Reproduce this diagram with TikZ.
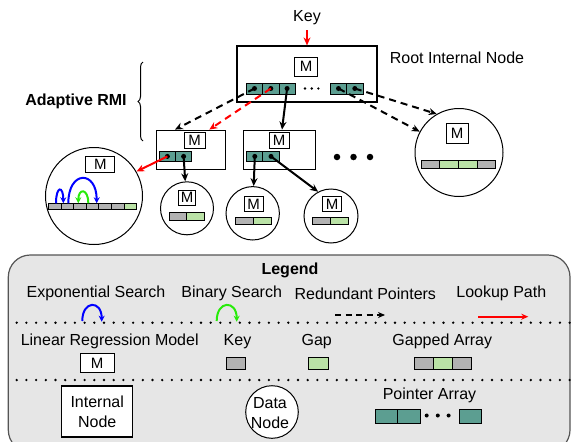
\documentclass[tikz,border=0pt]{standalone}
\usepackage{fontspec}
\setmainfont{Liberation Sans}
\usetikzlibrary{arrows.meta,decorations.pathreplacing}
\definecolor{tealc}{RGB}{92,158,145}
\definecolor{keygray}{RGB}{178,178,178}
\definecolor{gapgreen}{RGB}{186,226,166}
\definecolor{legbg}{RGB}{230,230,230}
\definecolor{legline}{RGB}{85,85,85}
\definecolor{arcgreen}{RGB}{40,235,10}
\definecolor{arcblue}{RGB}{0,0,255}
\definecolor{lookred}{RGB}{255,0,0}
\begin{document}
\begin{tikzpicture}[x=1pt,y=-1pt,
  txt/.style={font=\fontsize{16}{20}\selectfont, inner sep=0pt, align=center},
  mbox/.style={draw, line width=1pt, fill=white, inner sep=0pt, font=\fontsize{15}{15}\selectfont, minimum width=21pt, minimum height=16pt},
  pcell/.style={draw, line width=0.9pt, fill=tealc, inner sep=0pt, minimum width=16.3pt, minimum height=11pt},
  kcell/.style={draw, line width=0.8pt, fill=keygray, inner sep=0pt},
  gcell/.style={draw, line width=0.8pt, fill=gapgreen, inner sep=0pt},
  inode/.style={draw, line width=1.2pt, inner sep=0pt},
  dnode/.style={draw, circle, line width=1pt, inner sep=0pt},
  pdot/.style={circle, fill=black, inner sep=0pt, minimum size=5pt},
  edot/.style={circle, fill=black, inner sep=0pt, minimum size=2.6pt},
  bdot/.style={circle, fill=black, inner sep=0pt, minimum size=6.5pt},
  ptr/.style={-{Stealth[length=8pt,width=7pt]}, line width=2pt},
  dsh/.style={dash pattern=on 7pt off 5pt},
  lookup/.style={ptr, draw=lookred},
  srch/.style={-{Stealth[length=6pt,width=6pt]}, line width=2pt},
  dotline/.style={line width=2.6pt, line cap=round, dash pattern=on 0pt off 9.7pt}
]
\useasboundingbox (0,0) rectangle (571,442);

% ---------- legend background ----------
\draw[fill=legbg, draw=legline, line width=1.2pt, rounded corners=22pt] (8.3,255) rectangle (570,452);

% ---------- top tree ----------
\node[txt] (key) at (307,18) {Key};
\node[inode, minimum width=140pt, minimum height=56pt] (root) at (307,74) {};
\node[txt] (rootlbl) at (457,58) {Root Internal Node};
\node[txt, font=\fontsize{16}{20}\selectfont\bfseries] (armi) at (76,101) {Adaptive RMI};
\draw[decorate, decoration={brace, amplitude=5pt, aspect=0.5}, line width=1pt] (143,141) -- (143,62);

\node[mbox, minimum width=23pt, minimum height=19pt] (rm) at (306,66.5) {M};
\foreach \i/\x in {1/254.5, 2/270.8, 3/287.1, 4/338.5, 5/354.8}{
  \node[pcell] (rc\i) at (\x,88.5) {};
  \node[pdot] (rp\i) at (rc\i.center) {};
}
\foreach \i/\x in {1/305, 2/311.7, 3/318.4}{\node[edot] (re\i) at (\x,88.5) {};}

% internal node 1
\node[inode, minimum width=69pt, minimum height=39pt] (in1) at (190.7,149.7) {};
\node[mbox] (m1) at (194.7,140.5) {M};
\foreach \i/\x in {1/167.4, 2/183.6}{
  \node[pcell, minimum width=16.2pt, minimum height=10.7pt] (ac\i) at (\x,156.4) {};
  \node[pdot] (ap\i) at (ac\i.center) {};
}
% internal node 2
\node[inode, minimum width=72pt, minimum height=39pt] (in2) at (279.2,149.7) {};
\node[mbox, minimum width=20pt] (m2) at (279.2,140.8) {M};
\foreach \i/\x in {1/254.8, 2/271}{
  \node[pcell, minimum width=16.2pt, minimum height=10.7pt] (bc\i) at (\x,156.4) {};
  \node[pdot] (bp\i) at (bc\i.center) {};
}
\foreach \i/\x in {1/337, 2/353.5, 3/370}{\node[bdot] (be\i) at (\x,157) {};}

% right data node
\node[dnode, minimum size=88pt] (dn) at (459,152.5) {};
\node[mbox, minimum width=22pt, minimum height=20pt] (dm) at (457.2,133.8) {M};
\foreach \i/\c in {1/keygray, 2/gapgreen, 3/gapgreen, 4/keygray}{
  \node[kcell, fill=\c, minimum width=18.7pt, minimum height=8.3pt] (da\i) at (421+18.7*\i-9.35,164.2) {};
}

% big data node
\node[dnode, minimum size=97pt] (big) at (94,196) {};
\node[mbox, minimum width=29pt, minimum height=16pt] (bm) at (100.3,164.7) {M};
\foreach \i/\c in {1/keygray,2/keygray,3/keygray,4/keygray,5/keygray,6/keygray,7/gapgreen}{
  \node[kcell, fill=\c, minimum width=12.63pt, minimum height=6pt] (ba\i) at (48.3+12.63*\i-6.315,206.3) {};
}
\draw[srch, arcblue] (56,203.3) .. controls (56,185.5) and (63.3,185.5) .. (63.3,203.3);
\draw[srch, arcblue] (68.3,203.3) .. controls (68.3,170) and (96.7,170) .. (96.7,203.3);
\draw[srch, arcgreen] (88.3,203.3) .. controls (88.3,188) and (78.3,188) .. (78.3,203.3);

% small data nodes
\node[dnode, minimum size=53pt] (sc1) at (187,208.3) {};
\node[mbox, minimum width=17.5pt, minimum height=15pt] (s1m) at (187,197.5) {M};
\node[kcell, minimum width=17.5pt, minimum height=7.7pt] (s1a) at (178.05,216.2) {};
\node[gcell, minimum width=17.5pt, minimum height=7.7pt] (s1b) at (195.55,216.2) {};

\node[dnode, minimum size=53.4pt] (sc2) at (252.7,213.3) {};
\node[mbox, minimum width=19pt, minimum height=15pt] (s2m) at (253.7,204.2) {M};
\node[kcell, minimum width=17.8pt, minimum height=6.8pt] (s2a) at (244.2,221) {};
\node[gcell, minimum width=17.8pt, minimum height=6.8pt] (s2b) at (262,221) {};

\node[dnode, minimum size=54pt] (sc3) at (331,216) {};
\node[mbox, minimum width=19pt, minimum height=15pt] (s3m) at (332,204.2) {M};
\node[kcell, minimum width=17.8pt, minimum height=6.8pt] (s3a) at (321.6,220.7) {};
\node[gcell, minimum width=17.8pt, minimum height=6.8pt] (s3b) at (339.4,220.7) {};

% connectors
\draw[lookup] ([yshift=-5pt]key.south) -- (root.north);
\draw[ptr, dsh] (rp1.center) -- ([xshift=-15.7pt]in1.north);
\draw[lookup, dsh] (rp2.center) -- ([xshift=18.6pt]in1.north);
\draw[ptr] (rp3.center) -- ([xshift=2.8pt]in2.north);
\draw[ptr, dsh] (rp4.center) -- (dn);
\draw[ptr, dsh] (rp5.center) -- (dn.120);
\draw[lookup] (ap1.center) -- (big.30);
\draw[ptr] (ap2.center) -- (sc1);
\draw[ptr] (bp1.center) -- (sc2);
\draw[ptr] (bp2.center) -- (sc3.118);

% ---------- legend ----------
\node[txt, font=\fontsize{16}{20}\selectfont\bfseries] (leg) at (290,270.7) {Legend};
\node[txt] (lexp) at (96,293.3) {Exponential Search};
\node[txt] (lbin) at (231.7,293.3) {Binary Search};
\node[txt] (lred) at (365.3,293.3) {Redundant Pointers};
\node[txt] (llook) at (501.3,293.3) {Lookup Path};
\draw[srch, arcblue] (82.3,321) .. controls (82.3,300) and (101.7,300) .. (101.7,321.7);
\draw[srch, arcgreen] (216.7,321) .. controls (216.7,300) and (236.7,300) .. (236.7,321.7);
\coordinate (rda) at (335,315);
\coordinate (rdb) at (385,315);
\draw[-{Stealth[length=7pt,width=6pt]}, line width=1.8pt, dash pattern=on 6pt off 4.5pt] (rda) -- (rdb);
\coordinate (lka) at (478.3,316.7);
\coordinate (lkb) at (528.3,316.7);
\draw[-{Stealth[length=7pt,width=6pt]}, line width=1.8pt, draw=lookred] (lka) -- (lkb);
\draw[dotline] (16.7,322.7) -- (570,322.7);

\node[txt] (llin) at (109.7,341.7) {Linear Regression Model};
\node[txt] (lkey) at (237.5,341.7) {Key};
\node[txt] (lgap) at (316.7,341.7) {Gap};
\node[txt] (lga) at (442.3,341.7) {Gapped Array};
\node[mbox, minimum width=34pt, minimum height=19pt] (lm) at (97.2,363.4) {M};
\node[kcell, minimum width=19.7pt, minimum height=11.3pt] (lk) at (235.9,363.4) {};
\node[gcell, minimum width=20pt, minimum height=11.3pt] (lg) at (318.3,363.4) {};
\foreach \i/\c in {1/keygray,2/gapgreen,3/keygray}{
  \node[kcell, fill=\c, minimum width=19.1pt, minimum height=11.3pt] (lga\i) at (414.3+19.1*\i-9.55,363.4) {};
}
\draw[dotline] (16.7,380) -- (570,380);

\node[inode, fill=white, minimum width=71pt, minimum height=51pt] (lin) at (97.2,411.4) {};
\node[txt] (lintxt) at (97.2,411.7) {Internal\\Node};
\node[dnode, fill=white, minimum size=52.6pt] (ldn) at (272,412) {};
\node[txt] (ldntxt) at (270,413.5) {Data\\Node};
\node[txt] (lpa) at (429.5,395.7) {Pointer Array};
\node[pcell, minimum width=22.5pt, minimum height=14pt] (lp1) at (386.25,416.3) {};
\node[pcell, minimum width=22.5pt, minimum height=14pt] (lp2) at (408.75,416.3) {};
\foreach \i/\x in {1/426.7, 2/437.8, 3/448.6}{\node[circle, fill=black, inner sep=0pt, minimum size=4pt] (lpe\i) at (\x,415.5) {};}
\node[pcell, minimum width=22.4pt, minimum height=14pt] (lp3) at (470.5,416.3) {};
\end{tikzpicture}
\end{document}
